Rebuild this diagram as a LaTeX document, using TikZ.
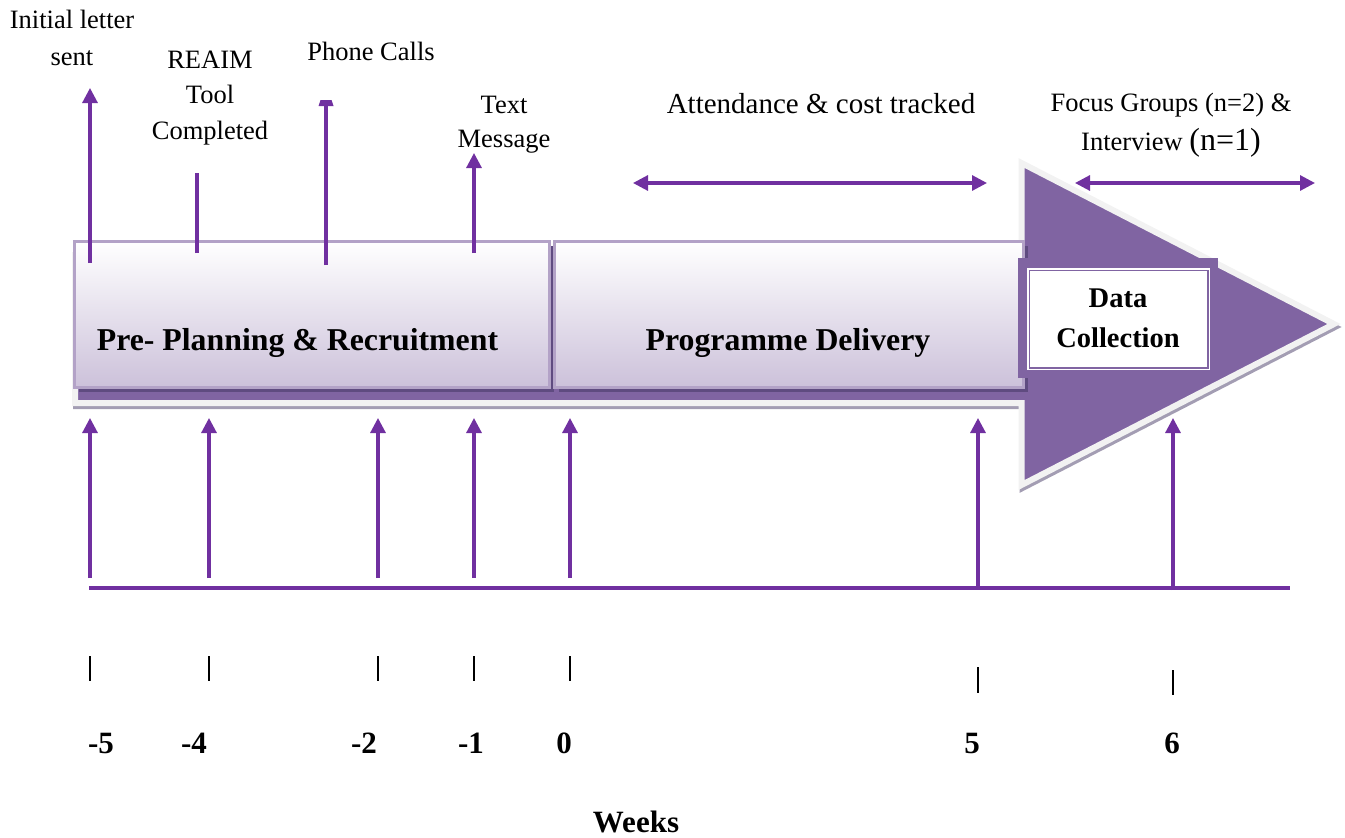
\documentclass[tikz,border=0pt]{standalone}
\usepackage{fontspec}
\setmainfont{Liberation Serif}
\usetikzlibrary{arrows.meta,calc,shadows}
\definecolor{linepurple}{HTML}{7030A0}
\definecolor{shapepurple}{HTML}{8064A2}
\definecolor{boxedge}{HTML}{B3A2C7}
\definecolor{boxlow}{HTML}{CCC1DA}
\definecolor{rimgray}{HTML}{F2F2F2}
\definecolor{shadowgray}{HTML}{A39DB3}
\definecolor{boxshadow}{HTML}{5F4B80}
\begin{document}
\begin{tikzpicture}[x=1pt,y=-1pt,
  conn/.style={draw=linepurple, line width=3.1pt},
  headtip/.style={-{Triangle[length=15pt,width=15pt]}},
  bothtips/.style={{Triangle[length=15pt,width=15pt]}-{Triangle[length=15pt,width=15pt]}},
  tickmark/.style={draw=black, line width=1.4pt},
  note/.style={font=\fontsize{26.5}{35}\selectfont, inner sep=0pt, align=center, anchor=base},
  phasebox/.style={top color=white, bottom color=boxlow, draw=boxedge, line width=3pt,
    inner sep=0pt, minimum height=146pt,
    drop shadow={shadow xshift=4pt, shadow yshift=-4pt, fill=boxshadow, opacity=1}},
  phasetext/.style={font=\bfseries\fontsize{31.8}{36}\selectfont, inner sep=0pt, anchor=base},
  weeknum/.style={font=\bfseries\fontsize{31}{36}\selectfont, inner sep=0pt, anchor=base}
]
\useasboundingbox (0,0) rectangle (1345,838);

% big arrow: shadow, then body with light rim
\filldraw[shadowgray, line width=6pt, line join=miter]
  (76,258) -- (1022.5,258) -- (1022.5,166) -- (1335,327) -- (1022.5,488)
  -- (1022.5,406) -- (76,406) -- cycle;
\filldraw[fill=shapepurple, draw=rimgray, line width=6pt, line join=miter]
  (75,255) -- (1021.5,255) -- (1021.5,163) -- (1334,324) -- (1021.5,485)
  -- (1021.5,403) -- (75,403) -- cycle;

% phase boxes
\node[phasebox, minimum width=475pt] (prep) at (312,314.5) {};
\node[phasebox, minimum width=469pt] (prog) at (789,314.5) {};
\node[phasetext] (lblprep) at (297.5,350) {Pre- Planning \& Recruitment};
\node[phasetext] (lblprog) at (788,350) {Programme Delivery};

% data collection panel
\node[fill=shapepurple, minimum width=200pt, minimum height=120pt, inner sep=0pt] (dcframe) at (1118,318) {};
\node[fill=white, draw=white, double=shapepurple, double distance=1.5pt, line width=1.5pt,
  minimum width=178.5pt, minimum height=97.5pt, inner sep=0pt] (dcbox) at (1118.5,319) {};
\node[phasetext, font=\bfseries\fontsize{28.5}{39.5}\selectfont, align=center] (lbldc) at (1118,347) {Data\\Collection};

% recruitment events above the bar (base = last line)
\node[note, font=\fontsize{26.5}{37}\selectfont] (lblletter) at (72,65) {Initial letter\\sent};
\node[note, font=\fontsize{26.5}{35.5}\selectfont] (lblreaim) at (210,139) {REAIM\\Tool\\Completed};
\node[note] (lblphone) at (371,60) {Phone Calls};
\node[note, font=\fontsize{26.5}{34}\selectfont] (lbltext) at (504,147) {Text\\Message};
\node[note, font=\fontsize{29}{34}\selectfont] (lblatt) at (821,113) {Attendance \& cost tracked};
\node[note, font=\fontsize{26.5}{39}\selectfont] (lblfocus) at (1171,150)
  {Focus Groups (n=2) \&\\Interview {\fontsize{32}{39}\selectfont(n=1)}};

\coordinate (letterfoot) at (90,263);
\coordinate (letterhead) at (90,88);
\draw[conn,headtip] (letterfoot) -- (letterhead);
\coordinate (reaimfoot) at (197,253);
\coordinate (reaimtop) at (197,173);
\draw[conn] (reaimfoot) -- (reaimtop);
\coordinate (phonefoot) at (326,265);
\coordinate (phonehead) at (326,106);
\draw[conn] (phonefoot) -- (phonehead);
\fill[linepurple] ($(phonehead)+(-7.5,0)$) -- ($(phonehead)+(7.5,0)$)
  -- ($(phonehead)+(5.5,-6)$) -- ($(phonehead)+(-5.5,-6)$) -- cycle;
\coordinate (textfoot) at (474,253);
\coordinate (texthead) at (474,153);
\draw[conn,headtip] (textfoot) -- (texthead);

% spans
\coordinate (attL) at (633,183);
\coordinate (attR) at (987,183);
\draw[conn,bothtips] (attL) -- (attR);
\coordinate (focL) at (1075,183);
\coordinate (focR) at (1315,183);
\draw[conn,bothtips] (focL) -- (focR);

% week axis
\coordinate (axisL) at (89,588);
\coordinate (axisR) at (1290,588);
\draw[conn] (axisL) -- (axisR);
\foreach \n/\x/\yb/\ta/\tb in {m5/90/578/656/681, m4/209/578/656/681, m2/378/578/656/681,
    m1/474/578/656/681, z0/570/578/656/681, p5/978/588/667/693, p6/1173/590/670/695} {
  \coordinate (\n-foot) at (\x,\yb);
  \coordinate (\n-head) at (\x,418);
  \draw[conn,headtip] (\n-foot) -- (\n-head);
  \coordinate (\n-ticka) at (\x,\ta);
  \coordinate (\n-tickb) at (\x,\tb);
  \draw[tickmark] (\n-ticka) -- (\n-tickb);
}
\node[weeknum] (wm5) at (101,753) {-5};
\node[weeknum] (wm4) at (194,753) {-4};
\node[weeknum] (wm2) at (364,753) {-2};
\node[weeknum] (wm1) at (471,753) {-1};
\node[weeknum] (wz0) at (564,753) {0};
\node[weeknum] (wp5) at (972,753) {5};
\node[weeknum] (wp6) at (1172,753) {6};
\node[weeknum] (weeks) at (636,832) {Weeks};
\end{tikzpicture}
\end{document}
